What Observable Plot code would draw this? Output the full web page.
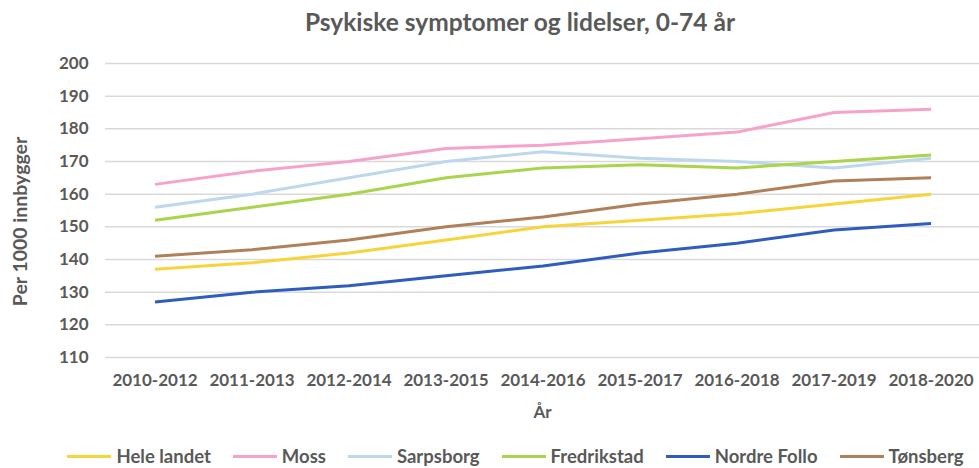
<!DOCTYPE html>
<html>
<head>
<meta charset="utf-8">
<script src="https://cdn.jsdelivr.net/npm/d3@7"></script>
<script src="https://cdn.jsdelivr.net/npm/@observablehq/plot@0.6"></script>
<style>
  html, body { margin: 0; padding: 0; background: #fff; }
  body { width: 979px; height: 468px; overflow: hidden; font-family: Lato, "Open Sans", sans-serif; color: #595959; }
  #title { height: 44px; line-height: 44px; padding-left: 61px; text-align: center; font-size: 24.5px; font-weight: bold; }
  #chart svg { display: block; }
  #legend { display: flex; justify-content: center; padding-top: 12px; padding-left: 52px; height: 20px; line-height: 20px; font-size: 18.5px; font-weight: bold; gap: 22px; }
  #legend .item { display: flex; align-items: center; white-space: nowrap; }
  #legend .sw { width: 44px; height: 3px; margin-right: 5px; }
</style>
</head>
<body>
<div id="title">Psykiske symptomer og lidelser, 0-74 år</div>
<div id="chart"></div>
<div id="legend"></div>
<script>
const periods = ["2010-2012","2011-2013","2012-2014","2013-2015","2014-2016","2015-2017","2016-2018","2017-2019","2018-2020"];
const seriesNames = ["Hele landet","Moss","Sarpsborg","Fredrikstad","Nordre Follo","Tønsberg"];
const seriesColors = ["#F7D43A","#F7A2CB","#BDD7EE","#A9D44C","#2F5DBD","#B0805A"];
const heleLandet = [137,139,142,146,150,152,154,157,160];
const moss = [163,167,170,174,175,177,179,185,186];
const sarpsborg = [156,160,165,170,173,171,170,168,171];
const fredrikstad = [152,156,160,165,168,169,168,170,172];
const nordreFollo = [127,130,132,135,138,142,145,149,151];
const tonsberg = [141,143,146,150,153,157,160,164,165];
const yTicks = [110,120,130,140,150,160,170,180,190,200];
const yLabel = "Per 1000 innbygger";
const xLabel = "År";

const allValues = [heleLandet, moss, sarpsborg, fredrikstad, nordreFollo, tonsberg];
const data = [];
seriesNames.forEach((name, i) => {
  periods.forEach((p, j) => data.push({series: name, period: p, value: allValues[i][j]}));
});

const plot = Plot.plot({
  width: 979,
  height: 390,
  marginTop: 19,
  marginBottom: 77,
  marginLeft: 105,
  marginRight: 0,
  style: {fontFamily: "Lato, 'Open Sans', sans-serif", fontSize: "17px", fontWeight: "bold", color: "#595959", background: "#fff"},
  x: {type: "band", domain: periods, padding: 0},
  y: {domain: [110, 200]},
  color: {domain: seriesNames, range: seriesColors},
  marks: [
    Plot.gridY(yTicks, {stroke: "#d9d9d9", strokeOpacity: 1, strokeWidth: 1.5}),
    Plot.axisY(yTicks, {tickSize: 0, tickPadding: 17, label: null, fill: "#595959"}),
    Plot.axisX({tickSize: 0, tickPadding: 16, label: null, fill: "#595959"}),
    Plot.text([yLabel], {text: d => d, frameAnchor: "left", textAnchor: "middle", rotate: -90, dx: -85, dy: 11, fontSize: 19.5, fontWeight: "bold", fill: "#595959"}),
    Plot.text([xLabel], {text: d => d, frameAnchor: "bottom", dy: 60, fontSize: 17, fontWeight: "bold", fill: "#595959"}),
    Plot.line(data, {x: "period", y: "value", z: "series", stroke: "series", strokeWidth: 3, strokeLinejoin: "round", strokeLinecap: "butt"})
  ]
});
document.getElementById("chart").appendChild(plot);

const legend = document.getElementById("legend");
seriesNames.forEach((name, i) => {
  const item = document.createElement("div");
  item.className = "item";
  const sw = document.createElement("div");
  sw.className = "sw";
  sw.style.background = seriesColors[i];
  const t = document.createElement("span");
  t.textContent = name;
  item.appendChild(sw);
  item.appendChild(t);
  legend.appendChild(item);
});
</script>
</body>
</html>
